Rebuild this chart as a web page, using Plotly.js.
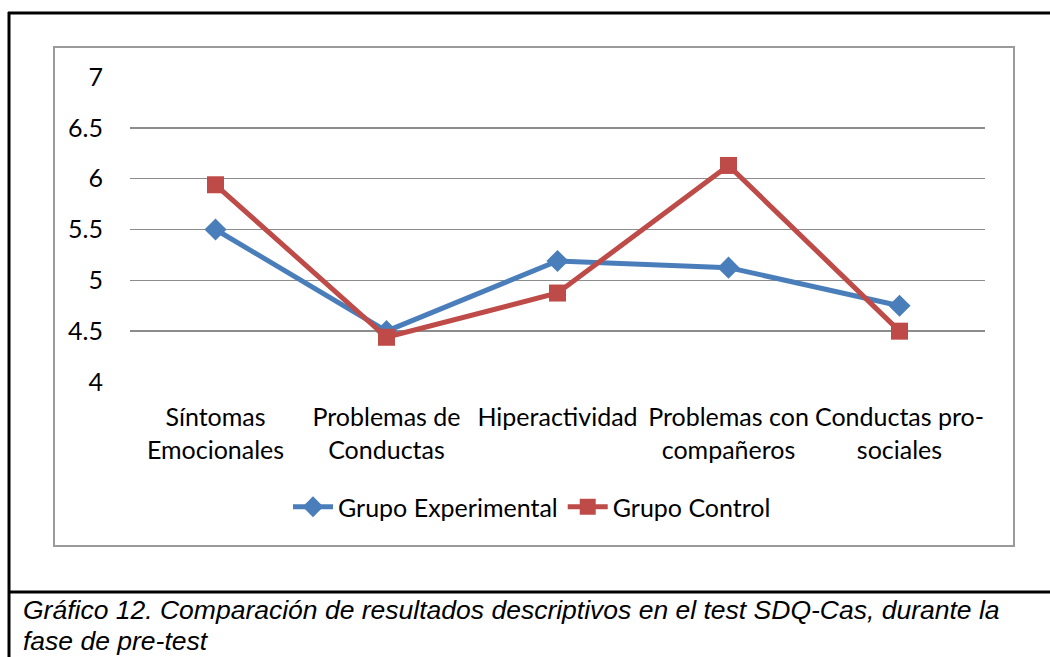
<!DOCTYPE html>
<html>
<head>
<meta charset="utf-8">
<script src="https://cdn.plot.ly/plotly-3.0.1.min.js"></script>
<style>
  html, body { margin: 0; padding: 0; background: #fff; }
  #chart { width: 1050px; height: 657px; }
</style>
</head>
<body>
<div id="chart"></div>
<script>
// ---- data ----
const categories = [
  "Síntomas<br>Emocionales",
  "Problemas de<br>Conductas",
  "Hiperactividad",
  "Problemas con<br>compañeros",
  "Conductas pro-<br>sociales"
];
const grupoExperimental = [5.5, 4.5, 5.19, 5.125, 4.75];
const grupoControl = [5.94, 4.44, 4.875, 6.13, 4.5];
const yTicks = [4, 4.5, 5, 5.5, 6, 6.5, 7];
const yTickLabels = ["4", "4.5", "5", "5.5", "6", "6.5", "7"];
const seriesNames = ["Grupo Experimental", "Grupo Control"];
const captionLines = [
  "Gráfico 12. Comparación de resultados descriptivos en el test SDQ-Cas, durante la",
  "fase de pre-test"
];

// ---- layout helpers (pixel -> paper) ----
const W = 1050, H = 657;
const plotL = 130, plotR = 985, plotT = 77, plotB = 382;
const px = x => (x - plotL) / (plotR - plotL);
const py = y => (plotB - y) / (plotB - plotT);

const traces = [
  {
    x: categories, y: grupoExperimental, name: seriesNames[0],
    type: "scatter", mode: "lines+markers",
    line: { color: "#4A7EBB", width: 5 },
    marker: { symbol: "diamond", size: 17, color: "#4A7EBB" }
  },
  {
    x: categories, y: grupoControl, name: seriesNames[1],
    type: "scatter", mode: "lines+markers",
    line: { color: "#BE4B48", width: 5 },
    marker: { symbol: "square", size: 17, color: "#BE4B48" }
  }
];

const captionFont = { family: "'Liberation Sans', Arial, sans-serif", size: 26.5, color: "#000", style: "italic" };
const captionY = [610, 641];

const layout = {
  width: W, height: H,
  margin: { l: plotL, r: W - plotR, t: plotT, b: H - plotB, pad: 0 },
  paper_bgcolor: "#ffffff",
  plot_bgcolor: "#ffffff",
  font: { family: "Lato, 'Open Sans', sans-serif", size: 25, color: "#000" },
  showlegend: true,
  legend: {
    orientation: "h",
    x: px(532), xanchor: "center",
    y: py(507), yanchor: "middle",
    font: { family: "Lato, sans-serif", size: 25, color: "#000" },
    itemwidth: 40,
    bgcolor: "rgba(0,0,0,0)"
  },
  xaxis: {
    type: "category",
    range: [-0.5, 4.5],
    showgrid: false, zeroline: false, showline: false,
    ticks: "", ticklabelstandoff: 18,
    tickfont: { family: "Lato, sans-serif", size: 25, color: "#000" },
    fixedrange: true
  },
  yaxis: {
    range: [4, 7],
    tickvals: yTicks, ticktext: yTickLabels,
    showgrid: true, gridcolor: "#8c8c8c", gridwidth: 1.5,
    zeroline: false, showline: false, ticks: "",
    ticklabelstandoff: 26,
    tickfont: { family: "Lato, sans-serif", size: 25, color: "#000" },
    fixedrange: true
  },
  shapes: [
    // inner chart border (gray)
    { type: "rect", xref: "paper", yref: "paper",
      x0: px(54), x1: px(1014), y0: py(546), y1: py(47),
      line: { color: "#9a9a9a", width: 2 }, fillcolor: "rgba(0,0,0,0)", layer: "below" },
    // outer black frame: top, left, separator
    { type: "line", xref: "paper", yref: "paper",
      x0: px(8), x1: px(1052), y0: py(13), y1: py(13),
      line: { color: "#000", width: 3 } },
    { type: "line", xref: "paper", yref: "paper",
      x0: px(9), x1: px(9), y0: py(12), y1: py(660),
      line: { color: "#000", width: 3 } },
    { type: "line", xref: "paper", yref: "paper",
      x0: px(8), x1: px(1052), y0: py(592), y1: py(592),
      line: { color: "#000", width: 3 } }
  ],
  annotations: captionLines.map((t, i) => ({
    text: t, xref: "paper", yref: "paper",
    x: px(22), y: py(captionY[i]), xanchor: "left", yanchor: "middle",
    align: "left", showarrow: false, borderpad: 0,
    font: captionFont
  }))
};

Plotly.newPlot("chart", traces, layout, { staticPlot: true, displayModeBar: false });
</script>
</body>
</html>
